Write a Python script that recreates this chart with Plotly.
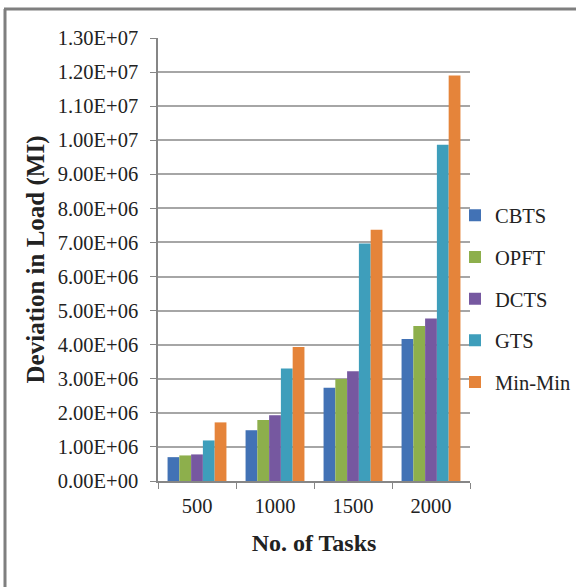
import plotly.graph_objects as go

categories = ["500", "1000", "1500", "2000"]
series_names = ["CBTS", "OPFT", "DCTS", "GTS", "Min-Min"]
cbts = [0.70e6, 1.49e6, 2.74e6, 4.17e6]
opft = [0.75e6, 1.79e6, 2.99e6, 4.55e6]
dcts = [0.78e6, 1.93e6, 3.22e6, 4.77e6]
gts = [1.19e6, 3.30e6, 6.97e6, 9.87e6]
minmin = [1.72e6, 3.93e6, 7.37e6, 11.9e6]
series_values = [cbts, opft, dcts, gts, minmin]
colors = ["#4272B5", "#8DAF4C", "#7658A0", "#3E9EBB", "#E5843A"]

y_tick_values = [i * 1e6 for i in range(14)]
y_tick_labels = [f"{v:.2E}" for v in y_tick_values]

FONT = "Liberation Serif, Times New Roman, serif"
W, H = 576, 587
ML, MR, MT, MB = 158, 106, 38, 106
pw, ph = W - ML - MR, H - MT - MB

fig = go.Figure()
for name, vals, col in zip(series_names, series_values, colors):
    fig.add_trace(go.Bar(
        x=categories, y=vals, name=name, marker_color=col,
        marker_line_width=0, legendgroup=name,
    ))

def px_x(p):
    return (p - ML) / pw

def px_y(p):
    return (H - MB - p) / ph

fig.update_layout(
    width=W, height=H,
    margin=dict(l=ML, r=MR, t=MT, b=MB, autoexpand=False),
    paper_bgcolor="white", plot_bgcolor="white",
    barmode="group", bargap=0.245, bargroupgap=0,
    font=dict(family=FONT, color="#222222", size=20),
    legend=dict(
        xref="container", yref="container",
        x=455 / W, y=1 - 299 / H, xanchor="left", yanchor="middle",
        font=dict(size=20.5, family=FONT, color="#222222"),
        traceorder="grouped", tracegroupgap=12,
        bgcolor="rgba(0,0,0,0)",
    ),
    xaxis=dict(
        type="category", tickson="boundaries",
        ticks="outside", ticklen=6, tickcolor="#868686",
        showline=True, linecolor="#868686", linewidth=1.5,
        tickfont=dict(size=20.5, family=FONT, color="#222222"),
        ticklabelstandoff=6,
        title=dict(text="<b>No. of Tasks</b>", font=dict(size=24, family=FONT, color="#222222"), standoff=18),
    ),
    yaxis=dict(
        range=[0, 1.3e7], tickvals=y_tick_values, ticktext=y_tick_labels,
        ticks="outside", ticklen=6, tickcolor="#868686",
        showline=True, linecolor="#868686", linewidth=1.5,
        showgrid=True, gridcolor="#A6A6A6", gridwidth=1.5,
        zeroline=False,
        tickfont=dict(size=20.5, family=FONT, color="#222222"),
        ticklabelstandoff=8,
        title=dict(text="<b>Deviation in Load (MI)</b>", font=dict(size=25, family=FONT, color="#222222"), standoff=6),
    ),
    shapes=[
        dict(type="line", xref="paper", yref="paper",
             x0=px_x(5), y0=px_y(600), x1=px_x(5), y1=px_y(9),
             line=dict(color="#7F7F7F", width=3)),
        dict(type="line", xref="paper", yref="paper",
             x0=px_x(4), y0=px_y(9), x1=px_x(576), y1=px_y(9),
             line=dict(color="#7F7F7F", width=3)),
    ],
)

fig.write_html(
    "out.html",
    config={"displayModeBar": False},
    post_script=(
        "document.body.style.margin='0';"
        "document.body.style.overflow='hidden';"
        "document.documentElement.style.overflow='hidden';"
    ),
)
